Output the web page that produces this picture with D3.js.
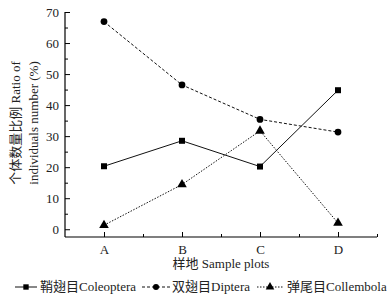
<!DOCTYPE html>
<html><head><meta charset="utf-8">
<script src="https://cdn.jsdelivr.net/npm/d3@7"></script>
<style>body{margin:0;background:#fff}svg{display:block}</style>
</head><body>
<script>
const categories = ["A","B","C","D"];
const coleoptera = [20.3, 28.5, 20.2, 44.8];
const diptera = [66.9, 46.5, 35.4, 31.3];
const collembola = [1.3, 14.4, 31.7, 2.0];
const yTicks = [0,10,20,30,40,50,60,70];
const seriesNames = ["鞘翅目Coleoptera","双翅目Diptera","弹尾目Collembola"];

const W=389,H=299;
const font = "'Liberation Serif','Noto Sans CJK SC',serif";
const svg = d3.select("body").append("svg").attr("width",W).attr("height",H);
const x = d3.scaleLinear().domain([0.5,4.5]).range([65,377]);
const y = d3.scaleLinear().domain([-2.5,70]).range([237,12]);

// y axis
const ya = svg.append("g").attr("transform","translate(65,0)")
 .call(d3.axisLeft(y).tickValues(yTicks).tickSize(-5).tickPadding(4).tickFormat(d3.format("d")));
ya.select(".domain").attr("d",`M0,${y(-2.5)}V${y(70)}`).attr("stroke","#000").attr("stroke-width",1.2);
ya.selectAll("text").attr("font-family",font).attr("font-size",13).attr("fill","#222").attr("dx",-2);
const ym = svg.append("g").attr("transform","translate(65,0)")
 .call(d3.axisLeft(y).tickValues(d3.range(5,70,10)).tickSize(-3).tickFormat(""));
ym.select(".domain").remove();

// x axis
const xa = svg.append("g").attr("transform","translate(0,237)")
 .call(d3.axisBottom(x).tickValues([1,2,3,4]).tickSize(-5).tickPadding(8).tickFormat((d,i)=>categories[i]));
xa.select(".domain").attr("d",`M${x(0.5)},0H${x(4.5)}`).attr("stroke","#000").attr("stroke-width",1.2);
xa.selectAll("text").attr("font-family",font).attr("font-size",13).attr("fill","#222");
const xm = svg.append("g").attr("transform","translate(0,237)")
 .call(d3.axisBottom(x).tickValues([1.5,2.5,3.5,4.5]).tickSize(-3).tickFormat(""));
xm.select(".domain").remove();

// axis labels
svg.append("text").attr("x",221).attr("y",268).attr("text-anchor","middle")
 .attr("font-family",font).attr("font-size",13).attr("fill","#222").text("样地 Sample plots");
const yl = svg.append("g").attr("transform","translate(0,123) rotate(-90)");
yl.append("text").attr("x",0).attr("y",20).attr("text-anchor","middle")
 .attr("font-family",font).attr("font-size",13).attr("fill","#222").text("个体数量比例 Ratio of");
yl.append("text").attr("x",0).attr("y",38).attr("text-anchor","middle")
 .attr("font-family",font).attr("font-size",13).attr("fill","#222").text("individuals number (%)");

const series = [
 {vals:coleoptera, dash:null, sym:d3.symbolSquare, size:36},
 {vals:diptera, dash:"3,2", sym:d3.symbolCircle, size:36},
 {vals:collembola, dash:"1.5,1.5", sym:d3.symbolTriangle, size:40}
];
const line = d3.line().x((d,i)=>x(i+1)).y(d=>y(d));
series.forEach(s=>{
  svg.append("path").datum(s.vals).attr("d",line).attr("fill","none")
   .attr("stroke","#111").attr("stroke-width",1).attr("stroke-dasharray",s.dash);
  svg.selectAll(null).data(s.vals).enter().append("path")
   .attr("d",d3.symbol().type(s.sym).size(s.size))
   .attr("transform",(d,i)=>`translate(${x(i+1)},${y(d)})`).attr("fill","#000");
});

// legend
const legX = [[15,37,40],[142,170,172],[257,283,287]];
series.forEach((s,i)=>{
  const [a,b,t]=legX[i]; const ly=287;
  svg.append("line").attr("x1",a).attr("x2",b).attr("y1",ly).attr("y2",ly)
   .attr("stroke","#111").attr("stroke-width",1).attr("stroke-dasharray",s.dash);
  svg.append("path").attr("d",d3.symbol().type(s.sym).size(s.size*0.8))
   .attr("transform",`translate(${(a+b)/2},${ly})`).attr("fill","#000");
  svg.append("text").attr("x",t).attr("y",291).attr("font-family",font).attr("font-size",13)
   .attr("fill","#222").text(seriesNames[i]);
});
</script>
</body></html>
